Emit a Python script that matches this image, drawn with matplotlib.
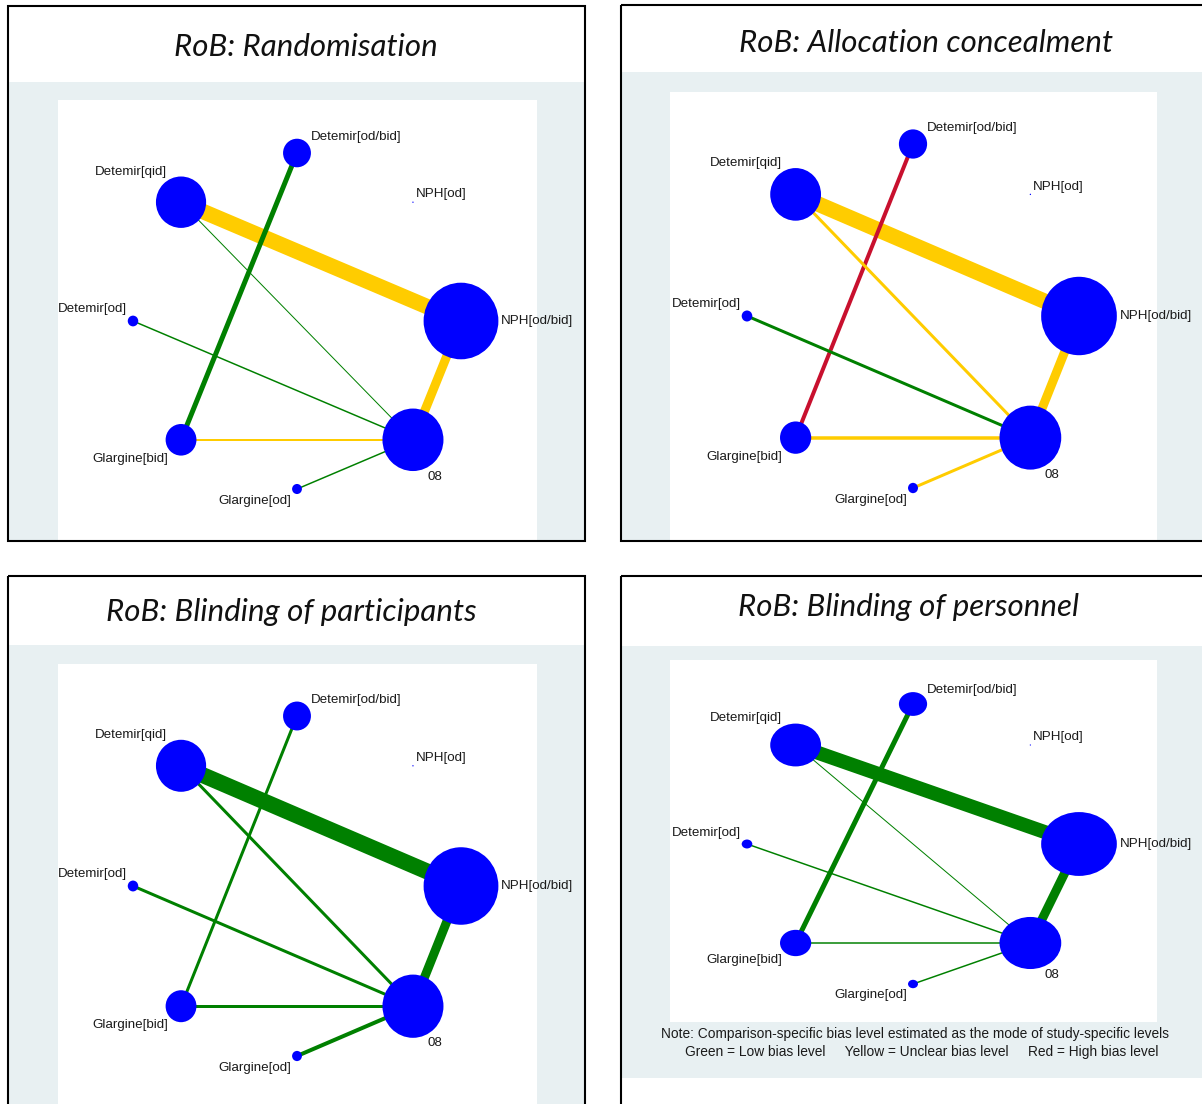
import numpy as np
import matplotlib.pyplot as plt
from matplotlib.patches import Rectangle, Ellipse

W, H = 1202, 1104

# treatment nodes, laid out clockwise round a circle starting at the top
nodes = ["Detemir[od/bid]", "NPH[od]", "NPH[od/bid]", "08",
         "Glargine[od]", "Glargine[bid]", "Detemir[od]", "Detemir[qid]"]
node_size = [0.085, 0.004, 0.228, 0.186, 0.030, 0.094, 0.032, 0.153]
label_angle = [35, 30, 0, -65, -135, -135, 135, 120]

# direct comparisons
edges = [("Detemir[qid]", "NPH[od/bid]"), ("NPH[od/bid]", "08"),
         ("Detemir[od/bid]", "Glargine[bid]"), ("Detemir[qid]", "08"),
         ("Detemir[od]", "08"), ("Glargine[bid]", "08"), ("Glargine[od]", "08")]

titles = ["RoB: Randomisation", "RoB: Allocation concealment",
          "RoB: Blinding of participants", "RoB: Blinding of personnel"]

# bias level per comparison: L = low, U = unclear, H = high
bias_random = ["U", "U", "L", "L", "L", "U", "L"]
bias_alloc = ["U", "U", "H", "U", "L", "U", "U"]
bias_particip = ["L", "L", "L", "L", "L", "L", "L"]
bias_personnel = ["L", "L", "L", "L", "L", "L", "L"]

# edge thickness (pixels)
width_random = [15.5, 9, 5, 1, 1.5, 2, 1.5]
width_alloc = [15.5, 9, 4, 3, 3, 3.5, 3]
width_particip = [16, 9, 3, 3, 3, 3, 4]
width_personnel = [14, 9, 5, 1, 1.5, 1.5, 1.5]

bias_colors = {"L": "#008000", "U": "#ffcc00", "H": "#c8102e"}
node_color = "#0000ff"
bg_color = "#e8f0f2"

note_1 = "Note: Comparison-specific bias level estimated as the mode of study-specific levels"
note_2 = "Green = Low bias level     Yellow = Unclear bias level     Red = High bias level"

# panel geometry in pixels (x0, y0, x1, y1), y measured from the top
panels = [
    dict(box=(8, 6, 585, 541), band=82, bg_bottom=540, inner=(58, 100, 537, 540),
         centre=(297, 321), radius=(164, 168), title_xy=(306, 47)),
    dict(box=(621, 5, 1215, 541), band=72, bg_bottom=540, inner=(670, 92, 1157, 540),
         centre=(913, 316), radius=(166, 172), title_xy=(926, 43)),
    dict(box=(8, 576, 585, 1115), band=645, bg_bottom=1104, inner=(58, 664, 537, 1104),
         centre=(297, 886), radius=(164, 170), title_xy=(291, 612)),
    dict(box=(621, 576, 1215, 1115), band=646, bg_bottom=1078, inner=(670, 660, 1157, 1022),
         centre=(913, 844), radius=(166, 140), title_xy=(908, 607)),
]
panel_bias = [bias_random, bias_alloc, bias_particip, bias_personnel]
panel_width = [width_random, width_alloc, width_particip, width_personnel]

label_font = dict(family="Liberation Sans", size=9.6, color="#1a1a1a")

fig = plt.figure(figsize=(W / 100, H / 100), dpi=100)
bg = fig.add_axes([0, 0, 1, 1])
bg.set_xlim(0, W)
bg.set_ylim(H, 0)
bg.axis("off")

theta = np.deg2rad(90 - 45 * np.arange(len(nodes)))
node_x = np.cos(theta)
node_y = np.sin(theta)
idx = {n: i for i, n in enumerate(nodes)}

for p, title, bias, widths in zip(panels, titles, panel_bias, panel_width):
    bx0, by0, bx1, by1 = p["box"]
    ix0, iy0, ix1, iy1 = p["inner"]
    bg.add_patch(Rectangle((bx0, by0), bx1 - bx0, by1 - by0, fc="white", ec="none", zorder=0))
    bg.add_patch(Rectangle((bx0, p["band"]), bx1 - bx0, p["bg_bottom"] - p["band"],
                           fc=bg_color, ec="none", zorder=1))
    bg.add_patch(Rectangle((ix0, iy0), ix1 - ix0, iy1 - iy0, fc="white", ec="none", zorder=2))
    bg.add_patch(Rectangle((bx0, by0), bx1 - bx0, by1 - by0, fill=False, ec="black",
                           lw=1.5, zorder=3, clip_on=False))
    bg.text(*p["title_xy"], title, ha="center", va="center", fontsize=22.5,
            family="Lato", style="italic", color="#111111")

    # network axes: unit circle mapped onto the inner area
    cx, cy = p["centre"]
    rx, ry = p["radius"]
    ax = fig.add_axes([ix0 / W, 1 - iy1 / H, (ix1 - ix0) / W, (iy1 - iy0) / H])
    ax.set_xlim((ix0 - cx) / rx, (ix1 - cx) / rx)
    ax.set_ylim((cy - iy1) / ry, (cy - iy0) / ry)
    ax.axis("off")

    for (a, b), lev, w in zip(edges, bias, widths):
        ia, ib = idx[a], idx[b]
        ax.plot([node_x[ia], node_x[ib]], [node_y[ia], node_y[ib]],
                color=bias_colors[lev], lw=w * 0.72, solid_capstyle="butt", zorder=1)

    for i, name in enumerate(nodes):
        s = node_size[i]
        ax.add_patch(Ellipse((node_x[i], node_y[i]), 2 * s, 2 * s,
                             fc=node_color, ec="none", zorder=2))
        ang = np.deg2rad(label_angle[i])
        ca, sa = np.cos(ang), np.sin(ang)
        ha = "left" if ca > 0.1 else ("right" if ca < -0.1 else "center")
        va = "bottom" if sa > 0.1 else ("top" if sa < -0.1 else "center")
        ax.annotate(name, xy=(node_x[i] + s * ca, node_y[i] + s * sa),
                    xytext=(2 * ca, 2 * sa), textcoords="offset points",
                    ha=ha, va=va, annotation_clip=False, zorder=3, **label_font)

bg.text(915, 1034, note_1, ha="center", va="center", family="Liberation Sans",
        size=9.9, color="#1a1a1a")
bg.text(922, 1052, note_2, ha="center", va="center", family="Liberation Sans",
        size=9.9, color="#1a1a1a")

fig.savefig("out.png", dpi=100)
